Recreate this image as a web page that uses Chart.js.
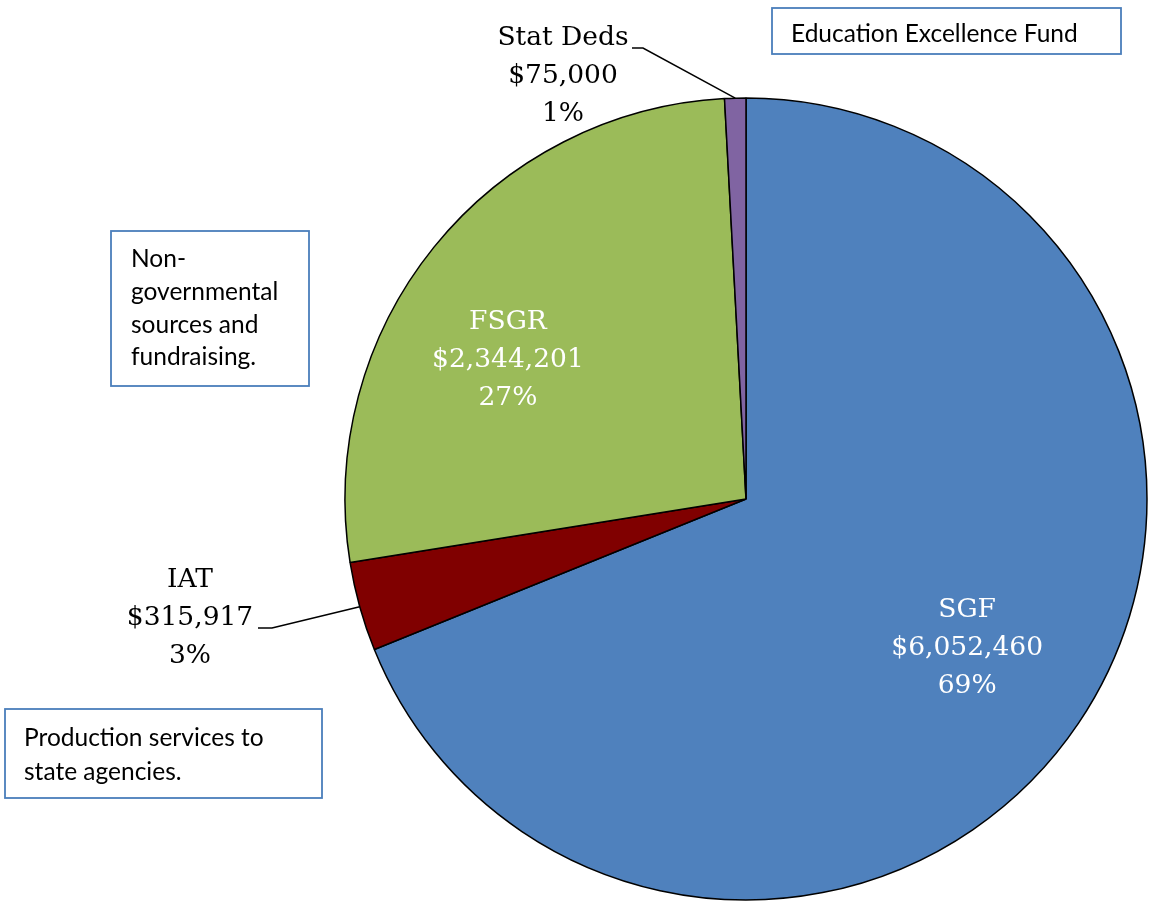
<!DOCTYPE html>
<html>
<head>
<meta charset="utf-8">
<script src="https://cdn.jsdelivr.net/npm/chart.js@4.4.1/dist/chart.umd.min.js"></script>
<style>
  html, body { margin: 0; padding: 0; background: #fff; }
  #wrap { width: 1153px; height: 909px; position: relative; }
</style>
</head>
<body>
<div id="wrap"><canvas id="chart"></canvas></div>
<script>
// funding sources, clockwise from 12 o'clock
const categories = ['SGF', 'IAT', 'FSGR', 'Stat Deds'];
const amounts = [6052460, 315917, 2344201, 75000];
const percentLabels = ['69%', '3%', '27%', '1%'];
const sliceColors = ['#4F81BD', '#800000', '#9BBB59', '#8064A2'];

// callout boxes
const noteTexts = [
    ['Education Excellence Fund'],
    ['Non-', 'governmental', 'sources and', 'fundraising.'],
    ['Production services to', 'state agencies.']
];

const labelFont = '26.5px "DejaVu Serif", "Liberation Serif", serif';
const noteFont = '24.5px Lato, "Liberation Sans", sans-serif';

// where each slice label goes
const labelPlacement = [
    { inside: true, r: 0.665, turn: 0, color: '#fff' },
    { inside: false, elbow: [272, 628], tail: 14, textX: 190, textY: 618, color: '#000' },
    { inside: true, r: 0.687, turn: -8.7, color: '#fff' },
    { inside: false, elbow: [643, 48], tail: 11, textX: 563, textY: 76, color: '#000' }
];

const notePlacement = [
    { x: 772, y: 8, w: 349, h: 46, pad: 19, lineH: 33, shift: 3 },
    { x: 111, y: 231, w: 198, h: 155, pad: 20, lineH: 32.7, shift: 0 },
    { x: 5, y: 709, w: 317, h: 89, pad: 19, lineH: 34, shift: 2 }
];

function money(v) {
    return '$' + v.toLocaleString('en-US');
}

const calloutPlugin = {
    id: 'callouts',
    afterDatasetsDraw(chart) {
        const ctx = chart.ctx;
        const arcs = chart.getDatasetMeta(0).data;
        ctx.save();
        ctx.font = labelFont;
        ctx.textAlign = 'center';
        ctx.textBaseline = 'middle';

        arcs.forEach((arc, i) => {
            const p = labelPlacement[i];
            const lines = [categories[i], money(amounts[i]), percentLabels[i]];
            const mid = (arc.startAngle + arc.endAngle) / 2;
            let cx, cy;
            if (p.inside) {
                const a = mid + p.turn * Math.PI / 180;
                cx = arc.x + Math.cos(a) * arc.outerRadius * p.r;
                cy = arc.y + Math.sin(a) * arc.outerRadius * p.r;
            } else {
                // leader line from the slice edge to the label
                const ex = arc.x + Math.cos(mid) * arc.outerRadius;
                const ey = arc.y + Math.sin(mid) * arc.outerRadius;
                ctx.strokeStyle = '#000';
                ctx.lineWidth = 1.5;
                ctx.beginPath();
                ctx.moveTo(ex, ey);
                ctx.lineTo(p.elbow[0], p.elbow[1]);
                ctx.lineTo(p.elbow[0] - p.tail, p.elbow[1]);
                ctx.stroke();
                cx = p.textX;
                cy = p.textY;
            }
            ctx.fillStyle = p.color;
            lines.forEach((t, k) => ctx.fillText(t, cx, cy + (k - 1) * 38));
        });

        // text boxes
        ctx.font = noteFont;
        ctx.textAlign = 'left';
        noteTexts.forEach((lines, i) => {
            const b = notePlacement[i];
            ctx.fillStyle = '#fff';
            ctx.fillRect(b.x, b.y, b.w, b.h);
            ctx.strokeStyle = '#4A7EBB';
            ctx.lineWidth = 1.8;
            ctx.strokeRect(b.x, b.y, b.w, b.h);
            ctx.fillStyle = '#000';
            const top = b.y + b.h / 2 - (lines.length - 1) * b.lineH / 2 + b.shift;
            lines.forEach((t, k) => ctx.fillText(t, b.x + b.pad, top + k * b.lineH));
        });
        ctx.restore();
    }
};

const ctx = document.getElementById('chart').getContext('2d');
new Chart(ctx, {
    type: 'pie',
    data: {
        labels: categories,
        datasets: [{
            data: amounts,
            backgroundColor: sliceColors,
            borderColor: '#000',
            borderWidth: 1.5
        }]
    },
    options: {
        responsive: true,
        maintainAspectRatio: false,
        animation: false,
        radius: 401,
        layout: { padding: { left: 345, right: 6, top: 98, bottom: 9 } },
        plugins: {
            legend: { display: false },
            tooltip: { enabled: false }
        }
    },
    plugins: [calloutPlugin]
});
</script>
</body>
</html>
